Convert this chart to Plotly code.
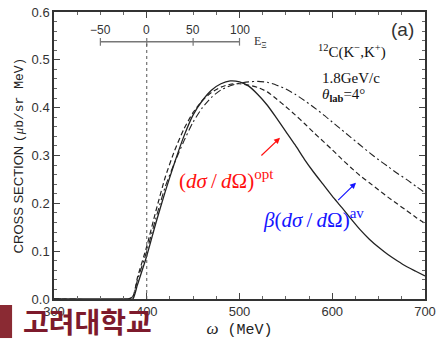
import plotly.graph_objects as go

omega = [300, 380, 385, 390, 400, 410, 420, 430, 440, 450, 460, 470, 480, 490, 500,
         510, 520, 530, 540, 550, 560, 570, 580, 590, 600, 610, 620, 630, 640, 650,
         660, 670, 680, 690, 700]
sigma_opt_solid = [0, 0, 0.0, 0.03, 0.09, 0.16, 0.225, 0.285, 0.34, 0.385, 0.415, 0.437, 0.45, 0.456, 0.454,
                   0.445, 0.427, 0.405, 0.378, 0.350, 0.322, 0.292, 0.265, 0.240, 0.215, 0.192, 0.168, 0.145, 0.125, 0.108,
                   0.093, 0.080, 0.068, 0.058, 0.048]
sigma_dashed = [0, 0, 0.005, 0.045, 0.11, 0.185, 0.255, 0.31, 0.355, 0.39, 0.415, 0.432, 0.443, 0.449, 0.45,
                0.447, 0.442, 0.433, 0.418, 0.402, 0.385, 0.367, 0.348, 0.330, 0.312, 0.293, 0.275, 0.258, 0.243, 0.228,
                0.213, 0.199, 0.185, 0.171, 0.158]
sigma_dashdot = [0, 0, 0.005, 0.04, 0.10, 0.17, 0.235, 0.285, 0.33, 0.37, 0.40, 0.422, 0.437, 0.446, 0.451,
                 0.454, 0.455, 0.453, 0.447, 0.439, 0.428, 0.415, 0.401, 0.386, 0.370, 0.354, 0.338, 0.322, 0.306, 0.291,
                 0.277, 0.263, 0.250, 0.236, 0.222]

e_xi_ticks = [-50, 0, 50, 100]
e_xi_offset = 400  # omega = E_Xi + 400
x_ticks = [300, 400, 500, 600, 700]
y_ticks = [0.0, 0.1, 0.2, 0.3, 0.4, 0.5, 0.6]

fig = go.Figure()
ink = "#222222"
fig.add_trace(go.Scatter(x=omega, y=sigma_opt_solid, mode="lines", line=dict(color=ink, width=1.3, shape="spline", smoothing=0.6), showlegend=False))
fig.add_trace(go.Scatter(x=omega, y=sigma_dashed, mode="lines", line=dict(color=ink, width=1.2, dash="5px,3px", shape="spline", smoothing=0.6), showlegend=False))
fig.add_trace(go.Scatter(x=omega, y=sigma_dashdot, mode="lines", line=dict(color=ink, width=1.1, dash="7px,3px,2px,3px", shape="spline", smoothing=0.6), showlegend=False))

serif = "Liberation Serif, Times New Roman, serif"
sans = "Liberation Sans, Arial, sans-serif"
mono = "Liberation Mono, Courier New, monospace"
gray = "#777777"
ts = "\u2009"

# E_Xi secondary scale
ey = 0.5377
fig.add_shape(type="line", x0=e_xi_ticks[0] + e_xi_offset, x1=e_xi_ticks[-1] + e_xi_offset, y0=ey, y1=ey,
              line=dict(color=gray, width=1.5))
for t in e_xi_ticks:
    fig.add_shape(type="line", x0=t + e_xi_offset, x1=t + e_xi_offset, y0=ey - 0.008, y1=ey + 0.008,
                  line=dict(color=gray, width=1.2))
    fig.add_annotation(x=t + e_xi_offset, y=0.562, text=("\u2212" + str(abs(t))) if t < 0 else str(t),
                       showarrow=False, font=dict(family=sans, size=12, color="#333"), xanchor="center", yanchor="middle")
fig.add_annotation(x=514, y=ey, text="E<sub>\u039e</sub>", showarrow=False, xanchor="left", yanchor="middle",
                   font=dict(family=serif, size=12, color="#333"))
# dotted line at E_Xi = 0
fig.add_shape(type="line", x0=e_xi_offset, x1=e_xi_offset, y0=0, y1=ey, line=dict(color="#555", width=1, dash="dot"))

fig.add_annotation(x=676, y=0.563, text="(a)", showarrow=False, font=dict(family=sans, size=19, color="#333"))
fig.add_annotation(x=582, y=0.517, text="<sup>12</sup>C(K<sup>\u2212</sup>,K<sup>+</sup>)", showarrow=False, xanchor="left",
                   font=dict(family=serif, size=15, color="#111"))
fig.add_annotation(x=587, y=0.462, text="1.8GeV/c", showarrow=False, xanchor="left",
                   font=dict(family=serif, size=15, color="#111"))
fig.add_annotation(x=587, y=0.427, text="<i>\u03b8</i><sub><b>lab</b></sub>=4\u00b0", showarrow=False, xanchor="left",
                   font=dict(family=serif, size=15, color="#111"))

fig.add_annotation(x=433, y=0.249,
                   text="(<i>d\u03c3</i>" + ts + "/" + ts + "<i>d</i>\u03a9)<sup><span style='font-size:15px'>opt</span></sup>",
                   showarrow=False, xanchor="left", font=dict(family=serif, size=21, color="#ff1010"))
fig.add_annotation(x=543.7, y=0.337, ax=522, ay=0.297, axref="x", ayref="y", text="", showarrow=True,
                   arrowhead=2, arrowsize=1, arrowwidth=1.2, arrowcolor="#ff1010")
fig.add_annotation(x=523, y=0.169,
                   text="<i>\u03b2</i>(<i>d\u03c3</i>" + ts + "/" + ts + "<i>d</i>\u03a9)<sup><span style='font-size:15px'>av</span></sup>",
                   showarrow=False, xanchor="left", font=dict(family=serif, size=21, color="#1515ff"))
fig.add_annotation(x=625.6, y=0.243, ax=604.8, ay=0.2036, axref="x", ayref="y", text="", showarrow=True,
                   arrowhead=2, arrowsize=1, arrowwidth=1.2, arrowcolor="#1515ff")

# watermark
fig.add_annotation(x=-0.088, y=-0.077, xref="paper", yref="paper", text="<b>고려대학교</b>", showarrow=False,
                   xanchor="left", yanchor="middle", font=dict(family="Noto Sans CJK KR", size=28, color="#7d1a2c"))
fig.add_shape(type="rect", xref="paper", yref="paper", x0=-0.1456, x1=-0.113, y0=-0.136, y1=-0.021,
              fillcolor="#8a2a33", line=dict(width=0))

fig.update_xaxes(range=[300, 700], tickvals=x_ticks, ticks="inside", ticklen=6, tickwidth=1, tickcolor="#444",
                 showline=True, linecolor="#333", linewidth=1.5, mirror="ticks", showgrid=False, zeroline=False,
                 minor=dict(dtick=25, ticks="inside", ticklen=3, tickcolor="#666", showgrid=False),
                 tickfont=dict(family=sans, size=13, color="#333"), automargin=False,
                 title=dict(text="<i style='font-family:Liberation Serif;font-size:17px'>\u03c9</i> <span style='font-family:Liberation Mono'>(MeV)</span>",
                            font=dict(family=mono, size=15, color="#222"), standoff=2))
fig.update_yaxes(range=[0, 0.6], tickvals=y_ticks, tickformat=".1f", ticks="inside", ticklen=6, tickwidth=1, tickcolor="#444",
                 showline=True, linecolor="#333", linewidth=1.5, mirror="ticks", showgrid=False, zeroline=False,
                 minor=dict(dtick=0.02, ticks="inside", ticklen=3, tickcolor="#666", showgrid=False),
                 tickfont=dict(family=sans, size=13, color="#333"), automargin=False,
                 title=dict(text="CROSS SECTION <span style='font-family:Liberation Mono'>(<i style='font-family:Liberation Serif'>\u03bc</i>b/sr MeV)</span>",
                            font=dict(family=sans, size=13, color="#222"), standoff=5))

fig.update_layout(width=437, height=340, margin=dict(l=54, r=12, t=12, b=41),
                  plot_bgcolor="white", paper_bgcolor="white")
fig.write_html("out.html", config={"displayModeBar": False}, post_script="document.body.style.margin='0';")
